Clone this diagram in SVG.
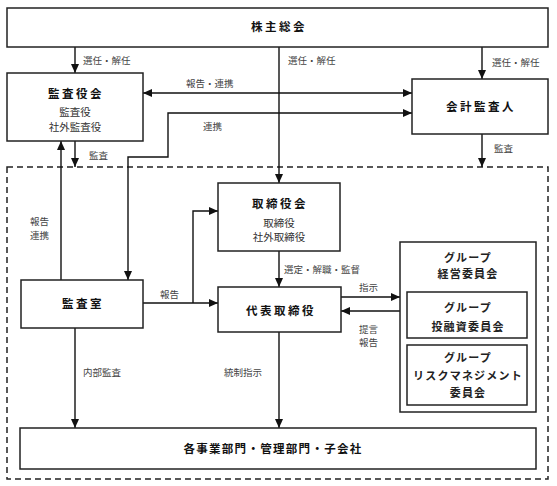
<svg xmlns="http://www.w3.org/2000/svg" width="557" height="486" viewBox="0 0 557 486">
<defs>
<style>
.box{fill:#fff;stroke:#222;stroke-width:1.5}
.ln{fill:none;stroke:#111;stroke-width:1.4}
.t{font-family:"Liberation Serif","Noto Sans CJK JP",serif;fill:#111}
.title{font-size:11.5px;font-weight:bold;letter-spacing:2.5px;text-anchor:middle}
.sub{font-size:10.5px;text-anchor:middle;fill:#333}
.grp{font-size:11px;letter-spacing:1.2px;text-anchor:middle;font-weight:bold;fill:#222}
.lbl{font-size:9.5px;fill:#444}
</style>
<marker id="ah" markerWidth="9" markerHeight="8" refX="9" refY="4" orient="auto-start-reverse" markerUnits="userSpaceOnUse">
<path d="M0,0 L9,4 L0,8 Z" fill="#111"/>
</marker>
</defs>
<rect x="7" y="167" width="541" height="312" fill="none" stroke="#222" stroke-width="1.5" stroke-dasharray="6,4"/>
<g id="connectors">
<path class="ln" d="M75 47 V73" marker-end="url(#ah)"/>
<path class="ln" d="M482 47 V79" marker-end="url(#ah)"/>
<path class="ln" d="M279 47 V183" marker-end="url(#ah)"/>
<path class="ln" d="M143 93 H412" marker-start="url(#ah)" marker-end="url(#ah)"/>
<path class="ln" d="M128 280 V157 H168 V113 H412" marker-start="url(#ah)" marker-end="url(#ah)"/>
<path class="ln" d="M75 141 V167" marker-end="url(#ah)"/>
<path class="ln" d="M482 134 V167" marker-end="url(#ah)"/>
<path class="ln" d="M61 280 V141" marker-end="url(#ah)"/>
<path class="ln" d="M143 303 H218" marker-end="url(#ah)"/>
<path class="ln" d="M193 303 V211 H218" marker-end="url(#ah)"/>
<path class="ln" d="M279 251 V287" marker-end="url(#ah)"/>
<path class="ln" d="M341 297 H400" marker-end="url(#ah)"/>
<path class="ln" d="M400 311 H341" marker-end="url(#ah)"/>
<path class="ln" d="M75 328 V428" marker-end="url(#ah)"/>
<path class="ln" d="M279 332 V428" marker-end="url(#ah)"/>
</g>
<g id="labels" class="t lbl">
<text x="83" y="64">選任・解任</text>
<text x="288" y="64">選任・解任</text>
<text x="492" y="66">選任・解任</text>
<text x="186" y="87">報告・連携</text>
<text x="203" y="130">連携</text>
<text x="89" y="159">監査</text>
<text x="494" y="152">監査</text>
<text x="30" y="225">報告</text>
<text x="30" y="239">連携</text>
<text x="160" y="298">報告</text>
<text x="284" y="273">選定・解職・監督</text>
<text x="359" y="291">指示</text>
<text x="359" y="333">提言</text>
<text x="359" y="346">報告</text>
<text x="83" y="376">内部監査</text>
<text x="224" y="376">統制指示</text>
</g>
<g id="shareholders">
<rect class="box" x="7" y="8" width="541" height="39"/>
<text class="t title" x="279" y="31">株主総会</text>
</g>
<g id="audit-board">
<rect class="box" x="7" y="73" width="136" height="68"/>
<text class="t title" x="76" y="98">監査役会</text>
<text class="t sub" x="75" y="116">監査役</text>
<text class="t sub" x="75" y="131">社外監査役</text>
</g>
<g id="accounting-auditor">
<rect class="box" x="412" y="79" width="136" height="55"/>
<text class="t title" x="481" y="111">会計監査人</text>
</g>
<g id="board">
<rect class="box" x="218" y="183" width="122" height="68"/>
<text class="t title" x="280" y="208">取締役会</text>
<text class="t sub" x="279" y="227">取締役</text>
<text class="t sub" x="279" y="241">社外取締役</text>
</g>
<g id="internal-audit">
<rect class="box" x="21" y="280" width="122" height="48"/>
<text class="t title" x="83" y="308">監査室</text>
</g>
<g id="representative">
<rect class="box" x="218" y="287" width="123" height="45"/>
<text class="t title" x="281" y="315">代表取締役</text>
</g>
<g id="group-mgmt">
<rect class="box" x="400" y="242" width="136" height="170"/>
<text class="t grp" x="468" y="262">グループ</text>
<text class="t grp" x="468" y="278">経営委員会</text>
</g>
<g id="group-invest">
<rect class="box" x="407" y="292" width="120" height="46"/>
<text class="t grp" x="468" y="312">グループ</text>
<text class="t grp" x="468" y="331">投融資委員会</text>
</g>
<g id="group-risk">
<rect class="box" x="407" y="345" width="120" height="60"/>
<text class="t grp" x="468" y="362">グループ</text>
<text class="t grp" x="468" y="380">リスクマネジメント</text>
<text class="t grp" x="468" y="397">委員会</text>
</g>
<g id="divisions">
<rect class="box" x="20" y="428" width="516" height="41"/>
<text class="t title" x="273" y="453" style="letter-spacing:1.3px">各事業部門・管理部門・子会社</text>
</g>
</svg>
